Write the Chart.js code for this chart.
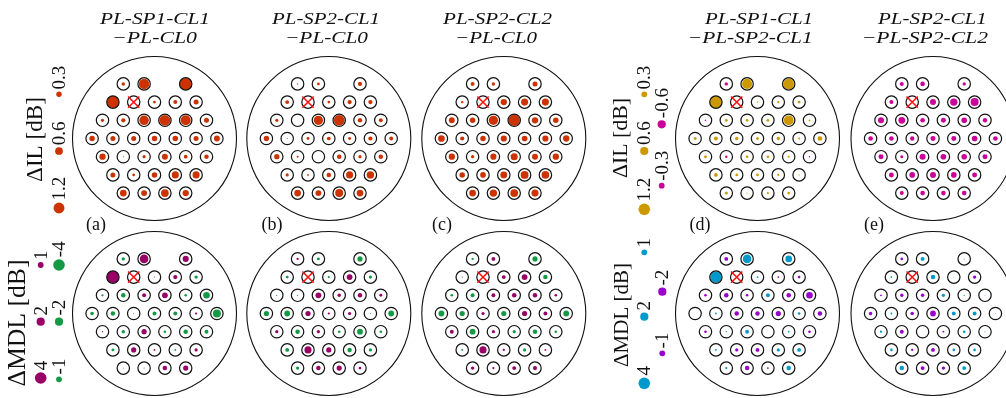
<!DOCTYPE html>
<html>
<head>
<meta charset="utf-8">
<script src="https://cdn.jsdelivr.net/npm/chart.js@4.4.0/dist/chart.umd.min.js"></script>
<style>
  html, body { margin: 0; padding: 0; background: #fff; }
  #wrap { width: 1006px; height: 398px; }
</style>
</head>
<body>
<div id="wrap"><canvas id="fig"></canvas></div>
<script>
// --- data: one array per panel, rows of the 37-slot hex core grid (top to bottom)
// null = no core (row 0, slot 2) or the broken core (row 1, slot 1, drawn as a red cross)
const ilA = [
  [0.12, 1.1, null, 1.45],
  [1.45, null, 0.08, 0.16, 0.25],
  [0.1, 0.18, 0.9, 1.15, 1.0, 0.25],
  [0.3, 0.25, 0.25, 0.3, 0.3, 0.25, 0.35],
  [0.4, 0.01, 0.1, 0.35, 0.14, 0.2],
  [0.25, 0.07, 0.3, 0.5, 0.5],
  [0.45, 0.35, 0.6, 0.4]
];
const ilB = [
  [0.02, 0.08, null, 0.18],
  [0.15, null, 0.07, 0.18, 0.18],
  [0.1, 0.0, 0.85, 1.15, 0.2, 0.15],
  [0.28, 0.01, 0.08, 0.14, 0.08, 0.18, 0.15],
  [0.28, 0.04, 0.0, 0.2, 0.1, 0.2],
  [0.1, 0.03, 0.2, 0.5, 0.55],
  [0.45, 0.35, 0.65, 0.45]
];
const ilC = [
  [0.15, 0.12, null, 0.25],
  [0.06, null, 0.4, 0.5, 0.5],
  [0.35, 0.3, 0.85, 1.25, 0.4, 0.3],
  [0.45, 0.18, 0.3, 0.38, 0.32, 0.38, 0.4],
  [0.4, 0.1, 0.38, 0.5, 0.35, 0.4],
  [0.3, 0.32, 0.48, 0.62, 0.58],
  [0.45, 0.55, 0.6, 0.5]
];
const ilD = [
  [-0.1, 0.9, null, 1.0],
  [1.3, null, 0.02, 0.05, 0.07],
  [-0.02, 0.07, 0.06, 0.07, 0.85, 0.03],
  [0.08, 0.14, 0.1, 0.08, 0.1, 0.04, 0.2],
  [0.08, -0.05, 0.06, 0.06, 0.04, -0.02],
  [0.12, 0.06, 0.06, 0.04, 0.01],
  [0.08, 0.01, 0.04, 0.06]
];
const ilE = [
  [-0.14, -0.19, null, -0.1],
  [-0.14, null, -0.32, -0.48, -0.57],
  [-0.32, -0.4, -0.19, -0.22, -0.28, -0.17],
  [-0.19, -0.19, -0.17, -0.22, -0.22, -0.28, -0.19],
  [-0.22, -0.08, -0.32, -0.28, -0.28, -0.22],
  [-0.22, -0.28, -0.32, -0.28, -0.22],
  [-0.14, -0.19, -0.19, -0.19]
];
const mdlA = [
  [-0.34, 2.2, null, 1.1],
  [4.3, null, 0.03, 0.5, -0.34],
  [-0.15, -0.6, 0.45, 1.0, -0.2, -1.3],
  [-0.4, -0.6, -0.03, -0.45, -0.45, 0.15, -1.9],
  [0.05, -0.35, 0.8, -0.2, -0.6, -0.45],
  [-0.25, 0.8, 0.1, -0.1, 0.3],
  [-0.03, -0.03, 0.6, 0.8]
];
const mdlB = [
  [0.15, -0.25, null, -0.8],
  [-0.25, null, -0.15, 1.0, -0.3],
  [-0.05, -0.05, 1.0, 0.35, 0.6, 0.25],
  [-0.8, -1.0, 0.8, 0.15, 0.3, -0.03, -1.0],
  [0.3, -0.6, 0.3, -0.2, -1.0, -0.2],
  [-0.45, 1.5, 0.8, -0.6, -0.3],
  [-0.3, 0.6, 0.8, 0.2]
];
const mdlC = [
  [-0.15, 0.45, null, -0.8],
  [-0.05, null, 0.45, 1.0, -0.6],
  [-0.2, -0.45, 0.45, 0.6, 0.6, 0.2],
  [-1.0, -0.8, 0.3, -0.8, 0.8, 0.45, -1.0],
  [0.45, -1.0, 0.3, -0.3, -0.6, -0.2],
  [-0.1, 1.5, 0.15, -0.3, 0.1],
  [0.35, 0.15, 0.45, 0.5]
];
const mdlD = [
  [-0.45, 2.2, null, 1.3],
  [3.8, null, 0.1, -0.1, -0.2],
  [-0.2, -0.6, -0.2, 0.45, -0.6, -1.3],
  [0, 0.1, -0.6, -0.6, -0.8, 0.2, -0.6],
  [-0.2, 0.05, 0.45, 0, 0.1, -0.2],
  [0.1, -0.3, -0.45, 0.3, 0.45],
  [0.15, -0.6, -0.1, 0.6]
];
const mdlE = [
  [-0.2, 0.45, null, 0.03],
  [0.1, null, 0.6, 0.02, -0.35],
  [-0.1, -0.35, -0.35, 0.3, 0.05, 0.02],
  [-0.35, 0.1, -0.35, -1.0, 0.45, 0.45, 0.02],
  [0.15, -0.45, 0, -0.1, 0.2, 0.03],
  [0.2, -0.15, -0.45, 0.2, 0.2],
  [0.6, -0.45, -0.35, 0.45]
];

const titlesTop = ['PL-SP1-CL1', 'PL-SP2-CL1', 'PL-SP2-CL2', 'PL-SP1-CL1', 'PL-SP2-CL1'];
const titlesBottom = ['\u2212PL-CL0', '\u2212PL-CL0', '\u2212PL-CL0', '\u2212PL-SP2-CL1', '\u2212PL-SP2-CL2'];
const panelTags = ['(a)', '(b)', '(c)', '(d)', '(e)'];

// legend entries (dB)
const ilKeyLeft = [0.3, 0.6, 1.2];
const mdlKeyPos = [1, 2, 4];
const mdlKeyNeg = [-1, -2, -4];
const ilKeyRightPos = [0.3, 0.6, 1.2];
const ilKeyRightNeg = [-0.3, -0.6];
const mdlKeyRightPos = [1, 2, 4];
const mdlKeyRightNeg = [-1, -2];

// --- layout
const panelX = [154.5, 328.8, 503.8, 757.5, 933];
const rowY = [138.5, 313.5];
const pitchX = 20.8, pitchY = 18.2;
const rowCounts = [4, 5, 6, 7, 6, 5, 4];
const gapSlot = [0, 2], brokenSlot = [1, 1];
const bigR = 82, ringR = 6.2;
const ilPanels = [ilA, ilB, ilC, ilD, ilE];
const mdlPanels = [mdlA, mdlB, mdlC, mdlD, mdlE];

const colors = [
  { il: ['#CC3300', '#CC3300'], mdl: ['#990066', '#149A45'] },
  { il: ['#CC9900', '#CC0099'], mdl: ['#0099CC', '#9900CC'] }
];
const scaleK = [{ il: 5.0, mdl: 2.9 }, { il: 5.3, mdl: 2.9 }];

function rad(v, k) { return v == null ? 0 : k * Math.sqrt(Math.abs(v)); }

function slotPos(cx, cy, r, j) {
  const n = rowCounts[r];
  return { x: cx + (j - (n - 1) / 2) * pitchX, y: cy + (r - 3) * pitchY };
}

const ringPts = [], crossPts = [], bigPts = [];
const dotSets = [];

for (let row = 0; row < 2; row++) {
  for (let p = 0; p < 5; p++) {
    const cx = panelX[p], cy = rowY[row];
    const grp = p < 3 ? 0 : 1;
    const vals = row === 0 ? ilPanels[p] : mdlPanels[p];
    const key = row === 0 ? 'il' : 'mdl';
    const pts = [], cols = [];
    bigPts.push({ x: cx, y: cy });
    rowCounts.forEach((n, r) => {
      for (let j = 0; j < n; j++) {
        if (r === gapSlot[0] && j === gapSlot[1]) continue;
        const pos = slotPos(cx, cy, r, j);
        ringPts.push(pos);
        if (r === brokenSlot[0] && j === brokenSlot[1]) { crossPts.push(pos); continue; }
        const v = vals[r][j];
        pts.push({ x: pos.x, y: pos.y, r: rad(v, scaleK[grp][key]) });
        cols.push(v >= 0 ? colors[grp][key][0] : colors[grp][key][1]);
      }
    });
    dotSets.push({ type: 'bubble', data: pts, backgroundColor: cols, borderWidth: 0, order: 2 });
  }
}

// legend dots
const keyLayout = [
  { vals: ilKeyLeft, x: 59, ys: [94.3, 151, 208], col: colors[0].il[0], k: scaleK[0].il },
  { vals: mdlKeyPos, x: 40.7, ys: [265, 321.7, 378], col: colors[0].mdl[0], k: scaleK[0].mdl },
  { vals: mdlKeyNeg, x: 59, ys: [379.3, 321.7, 265], col: colors[0].mdl[1], k: scaleK[0].mdl },
  { vals: ilKeyRightPos, x: 644.3, ys: [94.3, 151, 209.3], col: colors[1].il[0], k: scaleK[1].il },
  { vals: ilKeyRightNeg, x: 661.7, ys: [185.7, 124.3], col: colors[1].il[1], k: scaleK[1].il },
  { vals: mdlKeyRightPos, x: 644.3, ys: [252.3, 316.7, 383.3], col: colors[1].mdl[0], k: scaleK[1].mdl },
  { vals: mdlKeyRightNeg, x: 662.3, ys: [353.3, 291.7], col: colors[1].mdl[1], k: scaleK[1].mdl }
];
keyLayout.forEach(g => {
  dotSets.push({
    type: 'bubble',
    data: g.vals.map((v, i) => ({ x: g.x, y: g.ys[i], r: rad(v, g.k) })),
    backgroundColor: g.col, borderWidth: 0, order: 2
  });
});

// text layout
const line1 = [[155, 110], [326, 108], [497.5, 109], [759, 108], [932.3, 108.7]];
const line2 = [[154.5, 85], [326.5, 83], [496, 82], [750.2, 125], [924.8, 126.3]];
const tagX = [96, 272, 442, 700, 874];
const axisTitles = [
  { t: '\u0394IL [dB]', x: 36, y: 139.5, len: 85, size: 23 },
  { t: '\u0394MDL [dB]', x: 18, y: 323, len: 127, size: 26 },
  { t: '\u0394IL [dB]', x: 621.7, y: 138, len: 80, size: 22 },
  { t: '\u0394MDL [dB]', x: 622, y: 315, len: 104, size: 22 }
];

function fitText(ctx, str, x, y, len, size, italic, rotate) {
  ctx.save();
  ctx.font = (italic ? 'italic ' : '') + size + 'px "Liberation Serif", serif';
  const w = ctx.measureText(str).width;
  ctx.translate(x, y);
  if (rotate) ctx.rotate(-Math.PI / 2);
  ctx.scale(len / w, 1);
  ctx.textAlign = 'center';
  ctx.textBaseline = rotate ? 'middle' : 'alphabetic';
  ctx.fillStyle = '#111';
  ctx.fillText(str, 0, 0);
  ctx.restore();
}

const textPlugin = {
  id: 'figText',
  afterDraw(chart) {
    const ctx = chart.ctx;
    const xs = chart.scales.x, ys = chart.scales.y;
    for (let p = 0; p < 5; p++) {
      fitText(ctx, titlesTop[p], xs.getPixelForValue(line1[p][0]), ys.getPixelForValue(24), line1[p][1], 16.5, true, false);
      fitText(ctx, titlesBottom[p], xs.getPixelForValue(line2[p][0]), ys.getPixelForValue(43.3), line2[p][1], 16.5, true, false);
      ctx.save();
      ctx.font = '18px "Liberation Serif", serif';
      ctx.fillStyle = '#111';
      ctx.textAlign = 'center';
      ctx.fillText(panelTags[p], xs.getPixelForValue(tagX[p]), ys.getPixelForValue(230));
      ctx.restore();
    }
    axisTitles.forEach(a => fitText(ctx, a.t, xs.getPixelForValue(a.x), ys.getPixelForValue(a.y), a.len, a.size, false, true));
    // legend numbers, written upward from just above each dot
    keyLayout.forEach(g => {
      g.vals.forEach((v, i) => {
        const r = rad(v, g.k);
        ctx.save();
        ctx.font = '19px "Liberation Serif", serif';
        ctx.fillStyle = '#111';
        ctx.translate(xs.getPixelForValue(g.x), ys.getPixelForValue(g.ys[i]) - r - 2);
        ctx.rotate(-Math.PI / 2);
        ctx.textAlign = 'left';
        ctx.textBaseline = 'middle';
        ctx.fillText(String(v), 0, 1);
        ctx.restore();
      });
    });
  }
};

new Chart(document.getElementById('fig'), {
  type: 'scatter',
  data: {
    datasets: [
      { data: crossPts, pointStyle: 'crossRot', pointRadius: 8, borderColor: '#FF1010', borderWidth: 1.6, order: 0 },
      { data: ringPts, pointStyle: 'circle', pointRadius: ringR, backgroundColor: 'rgba(0,0,0,0)', borderColor: '#111', borderWidth: 1.2, order: 1 },
      ...dotSets,
      { data: bigPts, pointStyle: 'circle', pointRadius: bigR, backgroundColor: 'rgba(0,0,0,0)', borderColor: '#111', borderWidth: 1.1, order: 3 }
    ]
  },
  options: {
    responsive: true,
    maintainAspectRatio: false,
    animation: false,
    events: [],
    layout: { padding: 0, autoPadding: false },
    plugins: { legend: { display: false }, tooltip: { enabled: false } },
    scales: {
      x: { type: 'linear', min: 0, max: 1006, display: false },
      y: { type: 'linear', min: 0, max: 398, reverse: true, display: false }
    }
  },
  plugins: [textPlugin]
});
</script>
</body>
</html>
